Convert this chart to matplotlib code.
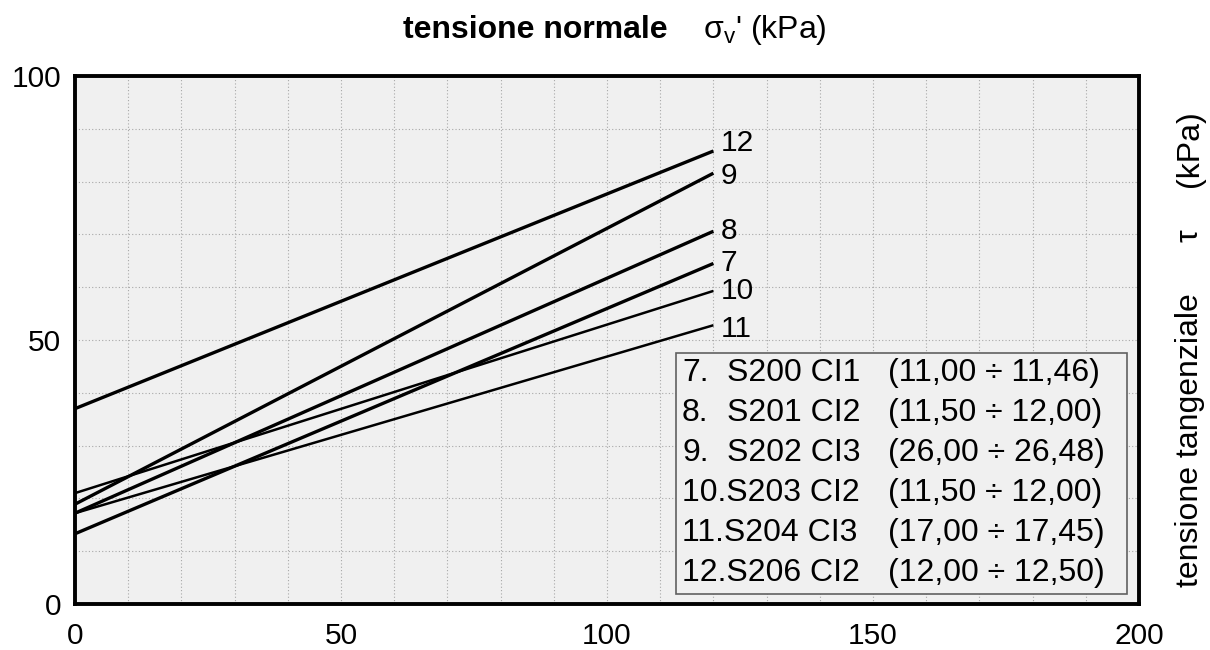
import matplotlib
matplotlib.use("Agg")
import matplotlib.pyplot as plt
from matplotlib.patches import Rectangle

plt.rcParams['font.family'] = ['Liberation Sans', 'DejaVu Sans']
plt.rcParams['mathtext.fontset'] = 'custom'
plt.rcParams['mathtext.rm'] = 'Liberation Sans'
plt.rcParams['mathtext.it'] = 'Liberation Sans'

# shear envelopes: tau = c + slope * sigma, drawn from 0 to 120 kPa
curve_ids = ["12", "9", "8", "7", "10", "11"]
sigma_range = [0, 120]
tau_at_0 = [37.0, 18.9, 17.2, 13.3, 21.0, 17.2]
tau_at_120 = [85.8, 81.6, 70.6, 64.5, 59.3, 52.8]

legend_num = ["7.", "8.", "9.", "10.", "11.", "12."]
legend_name = ["S200 CI1", "S201 CI2", "S202 CI3", "S203 CI2", "S204 CI3", "S206 CI2"]
legend_depth = ["(11,00 ÷ 11,46)", "(11,50 ÷ 12,00)", "(26,00 ÷ 26,48)",
                "(11,50 ÷ 12,00)", "(17,00 ÷ 17,45)", "(12,00 ÷ 12,50)"]

# styling of each envelope / its end label
line_w = [2.4, 2.4, 2.4, 2.4, 1.8, 1.8]
label_dy = [1.5, -0.5, 0, 0, 0, -0.8]

fig = plt.figure(figsize=(12.1, 6.5), dpi=100)
ax = fig.add_axes([0.062, 0.0708, 0.8793, 0.8122])
ax.set_facecolor("#f0f0f0")
ax.set_xlim(0, 200)
ax.set_ylim(0, 100)

ax.set_xticks(range(0, 201, 10), minor=True)
ax.set_yticks(range(0, 101, 10), minor=True)
ax.set_xticks([0, 50, 100, 150, 200])
ax.set_yticks([0, 50, 100])
ax.grid(True, which="both", color="#a8a8a8", linestyle=(0, (1, 2)), linewidth=0.8)
ax.set_axisbelow(True)
ax.tick_params(which="both", length=0)
ax.tick_params(axis="x", pad=13, labelsize=21.5)
ax.tick_params(axis="y", pad=10, labelsize=21.5)
for s in ax.spines.values():
    s.set_linewidth(2.8)

for name, a, b, w, dy in zip(curve_ids, tau_at_0, tau_at_120, line_w, label_dy):
    ax.plot(sigma_range, [a, b], color="black", lw=w, solid_capstyle="butt")
    ax.text(sigma_range[1] + 1.3, b + dy, name, fontsize=21.5, va="center", ha="left")

# legend box
box = Rectangle((113.0, 1.9), 197.7 - 113.0, 47.5 - 1.9,
                facecolor="#f0f0f0", edgecolor="#606060", lw=1.2, zorder=3)
ax.add_patch(box)
row_y = [43.8, 36.2, 28.6, 21.0, 13.4, 5.8]
for num, nm, dp, yy in zip(legend_num, legend_name, legend_depth, row_y):
    if len(num) == 2:
        ax.text(114.1, yy, num, fontsize=23, va="center", ha="left", zorder=4)
        ax.text(122.6, yy, nm, fontsize=23, va="center", ha="left", zorder=4)
    else:
        ax.text(114.1, yy, num + nm, fontsize=23, va="center", ha="left", zorder=4)
    ax.text(152.8, yy, dp, fontsize=23, va="center", ha="left", zorder=4)

# top axis title
fig.text(403 / 1210, 1 - 38 / 650, "tensione normale", fontsize=23, fontweight="bold",
         ha="left", va="baseline")
fig.text(703 / 1210, 1 - 38 / 650, "σ$_{v}$' (kPa)", fontsize=23, ha="left", va="baseline")

# right axis title
xr = 1190 / 1210
fig.text(xr, 1 - 440 / 650, "tensione tangenziale", fontsize=23, rotation=90, ha="center", va="center")
fig.text(xr, 1 - 236 / 650, "τ", fontsize=23, rotation=90, ha="center", va="center")
fig.text(xr, 1 - 149 / 650, "(kPa)", fontsize=23, rotation=90, ha="center", va="center")

fig.savefig("out.png", dpi=100)
